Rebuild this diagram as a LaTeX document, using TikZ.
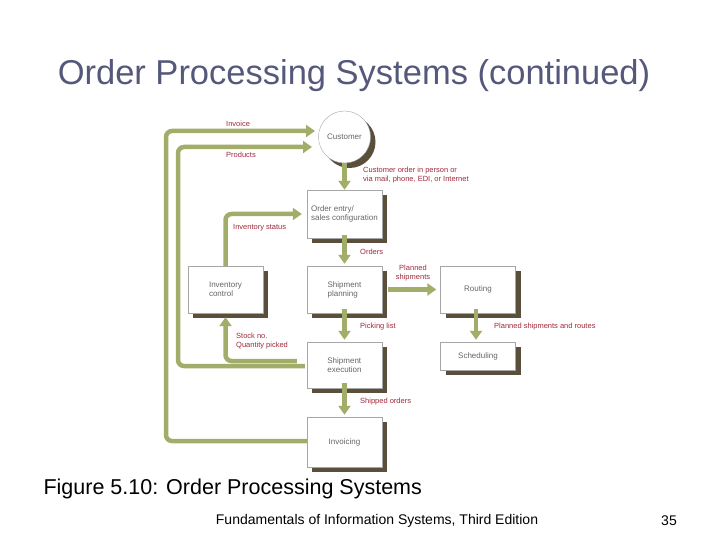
\documentclass[tikz,border=0pt]{standalone}
\usepackage{fontspec}
\setmainfont{Liberation Sans}
\usepackage{tikz}
\usetikzlibrary{arrows.meta,shadows,positioning}
\definecolor{olive}{HTML}{A3AD6A}
\definecolor{shade}{HTML}{5A4F3A}
\definecolor{lbl}{HTML}{A0283A}
\definecolor{ttl}{HTML}{55587A}
\tikzset{
  box/.style={draw=gray!70,fill=white,minimum width=75pt,align=left,font=\fontsize{8}{9}\selectfont,text=gray!80!black,
              drop shadow={shadow xshift=5pt,shadow yshift=-5pt,fill=shade,opacity=1}},
  flow/.style={draw=olive,line width=4.5pt,rounded corners=6pt,-{Triangle[length=9pt,width=12pt]}},
  lab/.style={text=lbl,font=\fontsize{7.5}{9}\selectfont,align=left,inner sep=0pt}
}
\begin{document}
\begin{tikzpicture}[x=1pt,y=-1pt]
    \useasboundingbox (0,0) rectangle (720,540); % page
    \node[text=ttl,font=\fontsize{34.5}{38}\selectfont] (title) at (354,76) {Order Processing Systems (continued)}; % title
    \node[box,circle,minimum size=52pt,inner sep=0pt,align=center] (cust) at (344.5,137) {Customer}; % customer
    \node[box,minimum height=48pt] (entry) at (344.5,214) {Order entry/\\sales configuration}; % order entry
    \node[box,minimum height=47pt] (plan) at (344.5,289.5) {Shipment\\planning}; % planning
    \node[box,minimum height=47pt] (inv) at (225.5,289.5) {Inventory\\control}; % inventory
    \node[box,minimum height=47pt,align=center] (route) at (478,289.5) {Routing}; % routing
    \node[box,minimum height=28pt,align=center] (sched) at (478,356) {Scheduling}; % scheduling
    \node[box,minimum height=46pt] (exec) at (344.5,365) {Shipment\\execution}; % execution
    \node[box,minimum height=50pt,align=center] (bill) at (344.5,442) {Invoicing}; % invoicing
    \draw[flow] (bill.west) ++(0,-1) -| (166,131) -- (315,131); % Invoice
    \draw[flow] (exec.west) ++(-2,1) -| (178,147) -- (312,147); % Products
    \draw[flow] (cust.south) -- (entry.north); % customer order
    \draw[flow] (inv.north) |- ([xshift=-5pt]entry.west); % inventory status
    \draw[flow] (entry.south) ++(0,-3) -- ([yshift=2pt]plan.north); % orders
    \draw[flow] ([xshift=6pt]plan.east) -- ([xshift=-4pt]route.west); % planned shipments
    \draw[flow] (plan.south) ++(0,-4) -- ([yshift=2pt]exec.north); % picking list
    \draw[flow] (exec.west) ++(-10,-4) -| ([yshift=-4pt]inv.south); % stock no
    \draw[flow] (route.south) ++(-2,-4) -- ([xshift=-2pt,yshift=2pt]sched.north); % routes
    \draw[flow] (exec.south) ++(0,-5) -- ([yshift=2pt]bill.north); % shipped orders
    \node[lab,anchor=west] (l1) at (226,124) {Invoice}; % label
    \node[lab,anchor=west] (l2) at (226,155) {Products}; % label
    \node[lab,anchor=west] (l3) at (363,175) {Customer order in person or\\via mail, phone, EDI, or Internet}; % label
    \node[lab,anchor=west] (l4) at (233,228) {Inventory status}; % label
    \node[lab,anchor=west] (l5) at (360,252) {Orders}; % label
    \node[lab,align=center] (l6) at (413,273) {Planned\\shipments}; % label
    \node[lab,anchor=west] (l7) at (360,327) {Picking list}; % label
    \node[lab,anchor=west] (l8) at (236,341) {Stock no.\\Quantity picked}; % label
    \node[lab,anchor=west] (l9) at (494,327) {Planned shipments and routes}; % label
    \node[lab,anchor=west] (l10) at (360,402) {Shipped orders}; % label
    \node[anchor=west,font=\fontsize{21.5}{24}\selectfont] (cap) at (40,489) {Figure 5.10: Order Processing Systems}; % caption
    \node[font=\fontsize{14}{16}\selectfont] (foot) at (377,521) {Fundamentals of Information Systems, Third Edition}; % footer
    \node[font=\fontsize{14}{16}\selectfont] (page) at (669,521) {35}; % page no
\end{tikzpicture}
\end{document}
